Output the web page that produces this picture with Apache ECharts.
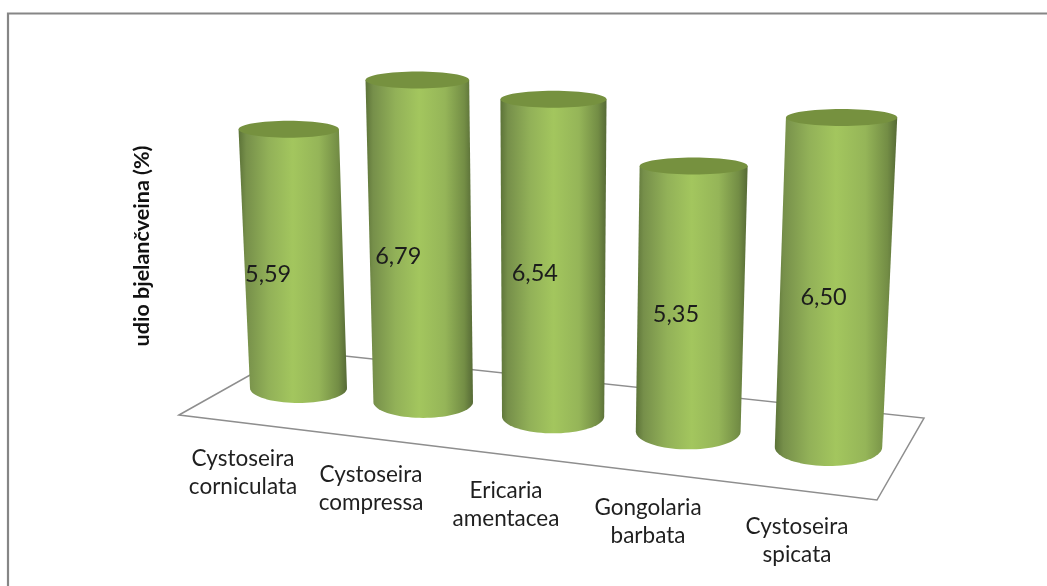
<!DOCTYPE html>
<html>
<head>
<meta charset="utf-8">
<style>html,body{margin:0;padding:0;background:#fff}#c{width:1047px;height:586px}</style>
<script src="https://cdn.jsdelivr.net/npm/echarts@6/dist/echarts.min.js"></script>
</head>
<body>
<div id="c"></div>
<script>
const categories = ['Cystoseira\ncorniculata', 'Cystoseira\ncompressa', 'Ericaria\namentacea', 'Gongolaria\nbarbata', 'Cystoseira\nspicata'];
const proteinValues = [5.59, 6.79, 6.54, 5.35, 6.50];
const axisTitle = 'udio bjelančveina (%)';

const FONT = 'Lato, "Open Sans", sans-serif';
const chart = echarts.init(document.getElementById('c'), null, {renderer: 'canvas'});

const bodyGradient = new echarts.graphic.LinearGradient(0, 0, 1, 0, [
  {offset: 0, color: '#5c7338'}, {offset: 0.07, color: '#768f4a'}, {offset: 0.28, color: '#92b158'},
  {offset: 0.5, color: '#a3c65e'}, {offset: 0.74, color: '#95b558'}, {offset: 0.92, color: '#738d45'},
  {offset: 1, color: '#566a36'}
]);

// perspective projection of the grid's flat coordinates onto the tilted floor
function project(p, cs) {
  const t = (p[0] - cs.x) / cs.width;
  const baseY = cs.y + cs.height;
  const h = baseY - p[1];
  const xb = p[0] + 41.6 * t * (t - 1);
  const yb = baseY + 0.1113 * (xb - cs.x);
  return {
    x: xb + 0.0071 * (xb - 545) * (h / 46.3),
    y: yb - h * (1 + 0.095 * t),
    t
  };
}

function renderCylinder(params, api) {
  const i = api.value(0), v = api.value(1), cs = params.coordSys;
  const bottom = project(api.coord([i, 0]), cs);
  const top = project(api.coord([i, v]), cs);
  const rb = 48.5 + 5.2 * bottom.t, rt = rb + 0.3 * v;
  const ryb = 15 + 4 * bottom.t, ryt = 8.5;
  const pts = [[top.x - rt, top.y], [top.x + rt, top.y]];
  for (let k = 0; k <= 40; k++) {
    const a = Math.PI * k / 40;
    pts.push([bottom.x + rb * Math.cos(a), bottom.y + ryb * Math.sin(a)]);
  }
  const labelX = (top.x + bottom.x) / 2 - 25.5 + 14 * bottom.t;
  const labelY = (top.y + bottom.y) / 2 + 15.5;
  const catX = 243 + 124.5 * i + 3.5 * i * i;
  const catY = 473 + 0.1215 * (catX - 243);
  return {
    type: 'group',
    children: [
      {type: 'polygon', shape: {points: pts}, style: {fill: bodyGradient}},
      {type: 'ellipse', shape: {cx: top.x, cy: top.y, rx: rt, ry: ryt}, style: {fill: '#76913f'}},
      {type: 'text', x: labelX, y: labelY, style: {
        text: v.toFixed(2).replace('.', ','), fill: '#1c1c1c', font: '23.5px ' + FONT, align: 'center', verticalAlign: 'middle'}},
      {type: 'text', x: catX, y: catY, style: {
        text: categories[i], fill: '#1f1f1f', font: '22.5px ' + FONT, lineHeight: 28, align: 'center', verticalAlign: 'middle'}}
    ]
  };
}

chart.setOption({
  animation: false,
  backgroundColor: '#fff',
  grid: {left: 298.5, width: 530, bottom: 198, height: 324.1, containLabel: false},
  xAxis: {type: 'category', data: categories, boundaryGap: false, show: false},
  yAxis: {
    type: 'value', min: 0, max: 7,
    axisLine: {show: false}, axisTick: {show: false}, axisLabel: {show: false}, splitLine: {show: false},
    name: axisTitle, nameLocation: 'middle', nameGap: 145, nameRotate: 90,
    nameTextStyle: {fontFamily: FONT, fontWeight: 'bold', fontSize: 21.5, color: '#111', padding: [0, 40, 0, 0]}
  },
  graphic: [
    {type: 'polyline', silent: true, z: -1, shape: {points: [[1047, 13.5], [8, 13.5], [8, 586]]},
     style: {stroke: '#868686', lineWidth: 2.2, fill: null}},
    {type: 'polygon', silent: true, z: -1, shape: {points: [[179, 415], [293.6, 350.5], [924, 418], [877, 500]]},
     style: {stroke: '#8e8e8e', lineWidth: 1.5, fill: null}}
  ],
  series: [{
    type: 'custom',
    clip: false,
    silent: true,
    renderItem: renderCylinder,
    data: proteinValues.map((v, i) => [i, v])
  }]
});
</script>
</body>
</html>
